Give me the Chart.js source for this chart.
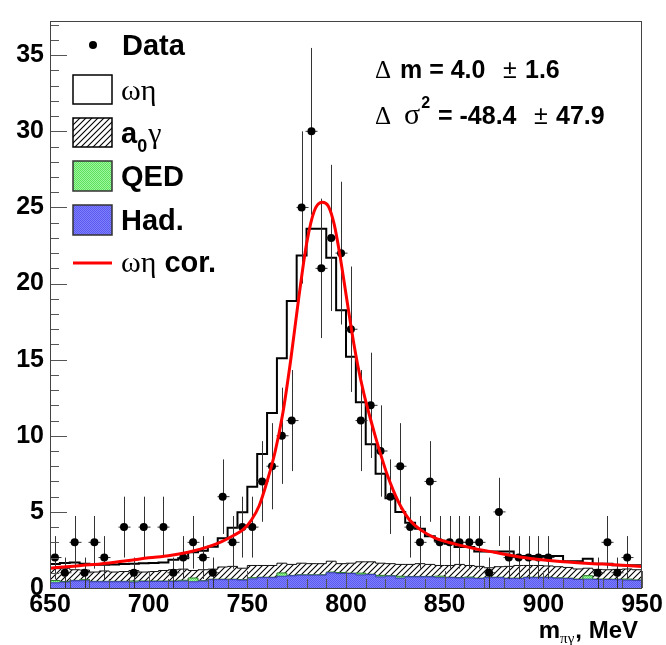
<!DOCTYPE html>
<html><head><meta charset="utf-8">
<script src="https://cdn.jsdelivr.net/npm/chart.js@4.4.0/dist/chart.umd.min.js"></script>
<style>html,body{margin:0;padding:0;background:#fff;}canvas{display:block;}</style>
</head><body>
<canvas id="c" width="666" height="645"></canvas>
<script>
// ---------- data ----------
const binEdges = [650,655,660,665,670,675,680,685,690,695,700,705,710,715,720,725,730,735,740,745,750,755,760,765,770,775,780,785,790,795,800,805,810,815,820,825,830,835,840,845,850,855,860,865,870,875,880,885,890,895,900,905,910,915,920,925,930,935,940,945,950];
const dataCounts = [2,1,3,1,3,2,0,4,1,4, 0,4,1,2,3,2,1,6,3,4, 4,7,8,10,11,25,30,21,23,22, 17,11,12,9,6,8,4,3,7,3, 3,3,3,3,1,5,2,2,2,2, 2,0,0,0,0,1,3,1,2,0];
const dataErrors = [1.41,1,1.73,1,1.73,1.41,0,2,1,2, 0,2,1,1.41,1.73,1.41,1,2.45,1.73,2, 2,2.65,2.83,3.16,3.32,5,5.48,4.58,4.8,4.69, 4.12,3.32,3.46,3,2.45,2.83,2,1.73,2.65,1.73, 1.73,1.73,1.73,1.73,1,2.24,1.41,1.41,1.41,1.41, 1.41,0,0,0,0,1,1.73,1,1.41,0];
const hadValues = [0.34,0.38,0.47,0.48,0.41,0.41,0.41,0.41,0.38,0.43, 0.43,0.43,0.43,0.45,0.41,0.45,0.55,0.55,0.55,0.52, 0.60,0.68,0.68,0.77,0.80,0.84,0.84,0.84,1.00,0.95, 0.95,0.86,0.88,0.73,0.78,0.65,0.73,0.73,0.73,0.68, 0.68,0.66,0.66,0.62,0.68,0.68,0.62,0.62,0.68,0.68, 0.68,0.64,0.62,0.56,0.58,0.56,0.56,0.55,0.52,0.50];
const qedValues = [0.15,0.05,0.03,0.07,0.03,0.03,0.03,0.03,0.08,0.03, 0.03,0.03,0.03,0.06,0.25,0.03,0.03,0.03,0.03,0.03, 0.08,0.03,0.03,0.22,0.03,0.03,0.03,0.03,0.05,0.07, 0.03,0.12,0.03,0.10,0.03,0.12,0.03,0.03,0.03,0.10, 0.03,0.03,0.06,0.03,0.03,0.03,0.03,0.03,0.03,0.03, 0.03,0.03,0.03,0.03,0.23,0.03,0.03,0.03,0.07,0.03];
const a0gValues = [0.78,0.87,0.70,0.63,0.61,0.68,0.61,0.64,0.69,0.59, 0.62,0.69,0.74,0.73,0.49,0.72,0.66,0.80,0.84,0.75, 0.80,0.77,0.77,0.64,0.72,0.76,0.73,0.73,0.71,0.58, 0.65,0.74,0.81,0.80,0.79,0.78,0.79,0.84,0.79,0.70, 0.77,0.86,0.76,0.77,0.62,0.69,0.77,0.83,0.77,0.77, 0.74,0.73,0.70,0.66,0.49,0.63,0.61,0.64,0.66,0.67];
const omegaEtaValues = [0.31,0.35,0.48,0.42,0.47,0.40,0.50,0.50,0.45,0.57, 0.57,0.53,0.65,0.71,1.20,1.25,1.47,1.89,2.54,3.67, 5.17,7.32,10.02,13.47,17.30,20.22,22.00,22.00,19.94,16.65, 13.57,10.48,7.72,5.87,4.30,3.45,2.73,2.30,1.85,1.62, 1.42,1.15,1.22,0.98,1.07,1.00,0.98,0.62,0.62,0.62, 0.65,0.70,0.40,0.50,0.62,0.38,0.40,0.28,0.25,0.30];
const curveX = [650,660,670,680,690,700,710,720,730,737,743,748,752,756,760,764,768,772,776,780,784,788,791,794,797,800,803,806,809,812,815,818,821,824,828,832,838,845,855,865,875,890,910,930,950];
const curveY = [1.30,1.42,1.52,1.65,1.80,1.98,2.12,2.35,2.70,3.05,3.45,3.85,4.45,5.4,7.0,8.9,11.5,15.0,19.0,22.6,24.8,25.35,25.1,23.9,21.8,19.3,16.8,14.6,12.8,11.3,9.9,8.6,7.4,6.4,5.3,4.5,3.8,3.3,2.9,2.6,2.35,2.0,1.72,1.57,1.42];
const xTickLabels = [650,700,750,800,850,900,950];
const yTickLabels = [0,5,10,15,20,25,30,35];
const Y_MAX = 37.25;

// ---------- helpers ----------
const SANS = "'Liberation Sans', Arial, sans-serif";
const SERIF = "'Liberation Serif', 'Times New Roman', serif";
function makePattern(w, h, draw) {
  const c = document.createElement('canvas'); c.width = w; c.height = h;
  const g = c.getContext('2d'); draw(g, w, h);
  return document.getElementById('c').getContext('2d').createPattern(c, 'repeat');
}
const bluePat = makePattern(2, 2, (g) => { g.fillStyle = '#8080ff'; g.fillRect(0,0,2,2); g.fillStyle = '#5a5aee'; g.fillRect(0,0,1,1); g.fillRect(1,1,1,1); });
const greenPat = makePattern(2, 2, (g) => { g.fillStyle = '#9cf79c'; g.fillRect(0,0,2,2); g.fillStyle = '#5fe05f'; g.fillRect(0,0,1,1); g.fillRect(1,1,1,1); });
const hatchPat = makePattern(6, 6, (g, w, h) => {
  g.fillStyle = '#fff'; g.fillRect(0,0,w,h);
  g.strokeStyle = '#000'; g.lineWidth = 1.1;
  g.beginPath(); g.moveTo(-1, h + 1); g.lineTo(w + 1, -1);
  g.moveTo(-1, 1); g.lineTo(1, -1); g.moveTo(w - 1, h + 1); g.lineTo(w + 1, h - 1); g.stroke();
});

function histPoints(vals) {
  return binEdges.map((e, i) => ({ x: e, y: vals[Math.min(i, vals.length - 1)] }));
}
const dataPoints = [];
dataCounts.forEach((n, i) => {
  if (n > 0) dataPoints.push({ x: (binEdges[i] + binEdges[i + 1]) / 2, y: n, err: dataErrors[i] });
});
const curvePoints = curveX.map((x, i) => ({ x, y: curveY[i] }));

const histCommon = { type: 'line', stepped: 'before', pointRadius: 0, stack: 'hist', tension: 0 };

// ---------- plugins ----------
const errorBars = {
  id: 'errorBars',
  beforeDatasetDraw(chart, args) {
    if (chart.data.datasets[args.index].label !== 'Data') return;
    const { ctx, chartArea: a, scales: { x, y } } = chart;
    ctx.save();
    ctx.beginPath(); ctx.rect(a.left, a.top, a.right - a.left, a.bottom - a.top); ctx.clip();
    ctx.strokeStyle = '#333'; ctx.lineWidth = 1;
    dataPoints.forEach(p => {
      const px = Math.round(x.getPixelForValue(p.x)) + 0.5;
      const y1 = y.getPixelForValue(p.y - p.err), y2 = y.getPixelForValue(p.y + p.err);
      const py = y.getPixelForValue(p.y);
      ctx.beginPath(); ctx.moveTo(px, y1); ctx.lineTo(px, y2);
      ctx.moveTo(px - 6, py); ctx.lineTo(px + 6, py); ctx.stroke();
    });
    ctx.restore();
  }
};

function seg(ctx, text, x, y, font, align) {
  ctx.font = font; ctx.textAlign = align || 'left'; ctx.fillText(text, x, y);
  return ctx.measureText(text).width;
}

const decor = {
  id: 'decor',
  afterDraw(chart) {
    const { ctx, chartArea: a, scales: { x, y } } = chart;
    ctx.save();
    // ticks (inside frame)
    ctx.strokeStyle = '#555'; ctx.lineWidth = 1;
    ctx.beginPath();
    for (let v = 0; v <= Math.floor(Y_MAX); v++) {
      const py = Math.round(y.getPixelForValue(v)) + 0.5;
      const len = (v % 5 === 0) ? 17 : 9;
      ctx.moveTo(a.left, py); ctx.lineTo(a.left + len, py);
    }
    for (let v = 650; v <= 950; v += 10) {
      const px = Math.round(x.getPixelForValue(v)) + 0.5;
      const len = (v % 50 === 0) ? 17 : 9;
      ctx.moveTo(px, a.bottom); ctx.lineTo(px, a.bottom - len);
    }
    ctx.stroke();
    // frame
    ctx.strokeStyle = '#444';
    ctx.strokeRect(a.left + 0.5, a.top + 0.5, a.right - a.left - 1, a.bottom - a.top);

    ctx.fillStyle = '#000'; ctx.textBaseline = 'alphabetic';
    // legend
    ctx.beginPath(); ctx.arc(93, 45, 4, 0, Math.PI * 2); ctx.fill();
    seg(ctx, 'Data', 122, 55, 'bold 29px ' + SANS);
    ctx.lineWidth = 1.5; ctx.strokeStyle = '#000';
    ctx.fillStyle = '#fff'; ctx.fillRect(73, 75, 39, 29); ctx.strokeRect(73, 75, 39, 29);
    ctx.fillStyle = '#000'; seg(ctx, 'ωη', 121, 100, '30px ' + SERIF);
    ctx.fillStyle = hatchPat; ctx.fillRect(73, 118, 39, 29); ctx.strokeRect(73, 118, 39, 29);
    ctx.fillStyle = '#000';
    let w = seg(ctx, 'a', 121, 143, 'bold 29px ' + SANS);
    let w2 = seg(ctx, '0', 121 + w, 152, 'bold 18px ' + SANS);
    seg(ctx, 'γ', 121 + w + w2 + 1, 143, '30px ' + SERIF);
    ctx.fillStyle = greenPat; ctx.fillRect(73, 161, 39, 30); ctx.strokeStyle = '#333'; ctx.strokeRect(73, 161, 39, 30);
    ctx.fillStyle = '#000'; seg(ctx, 'QED', 121, 186, 'bold 29px ' + SANS);
    ctx.fillStyle = bluePat; ctx.fillRect(73, 205, 39, 30); ctx.strokeRect(73, 205, 39, 30);
    ctx.fillStyle = '#000'; seg(ctx, 'Had.', 121, 230, 'bold 29px ' + SANS);
    ctx.strokeStyle = '#ff0000'; ctx.lineWidth = 3;
    ctx.beginPath(); ctx.moveTo(73, 263); ctx.lineTo(112, 263); ctx.stroke();
    w = seg(ctx, 'ωη', 121, 272, '30px ' + SERIF);
    seg(ctx, ' cor.', 121 + w, 272, 'bold 29px ' + SANS);

    // fit results
    seg(ctx, 'Δ', 375, 78, '25px ' + SERIF);
    seg(ctx, 'm = 4.0', 400, 78, 'bold 25px ' + SANS);
    seg(ctx, '±', 503, 78, '25px ' + SANS);
    seg(ctx, '1.6', 525, 78, 'bold 25px ' + SANS);
    seg(ctx, 'Δ', 375, 124, '25px ' + SERIF);
    const ws = seg(ctx, 'σ', 404, 124, '30px ' + SERIF);
    seg(ctx, '2', 404 + ws + 1, 108, 'bold 16px ' + SANS);
    seg(ctx, '= -48.4', 438, 124, 'bold 25px ' + SANS);
    seg(ctx, '±', 534, 124, '25px ' + SANS);
    seg(ctx, '47.9', 556, 124, 'bold 25px ' + SANS);

    // x axis title
    let r = 638;
    r -= seg(ctx, ', MeV', r, 638, 'bold 24px ' + SANS, 'right');
    r -= seg(ctx, 'πγ', r - 1, 643, '15px ' + SERIF, 'right') + 1;
    seg(ctx, 'm', r, 638, 'bold 24px ' + SANS, 'right');
    ctx.restore();
  }
};

// ---------- chart ----------
new Chart(document.getElementById('c'), {
  type: 'line',
  data: {
    datasets: [
      { ...histCommon, label: 'Had.', data: histPoints(hadValues), fill: 'origin', backgroundColor: bluePat, borderColor: '#3a3ab0', borderWidth: 1 },
      { ...histCommon, label: 'QED', data: histPoints(qedValues), fill: '-1', backgroundColor: greenPat, borderColor: '#2c7a2c', borderWidth: 1 },
      { ...histCommon, label: 'a0γ', data: histPoints(a0gValues), fill: '-1', backgroundColor: hatchPat, borderColor: '#111', borderWidth: 1 },
      { ...histCommon, label: 'ωη', data: histPoints(omegaEtaValues), fill: '-1', backgroundColor: '#ffffff', borderColor: '#000', borderWidth: 2 },
      { type: 'scatter', label: 'Data', data: dataPoints, stack: 'data', order: -1, showLine: false,
        pointRadius: 4, pointBackgroundColor: '#000', pointBorderWidth: 0, pointBorderColor: '#000' },
      { type: 'line', label: 'ωη cor.', data: curvePoints, stack: 'curve', order: -2, pointRadius: 0,
        borderColor: '#ff0000', borderWidth: 3, fill: false, cubicInterpolationMode: 'monotone' }
    ]
  },
  options: {
    responsive: false, animation: false, devicePixelRatio: 1,
    layout: { padding: { top: 10, right: 24, left: 0, bottom: 0 } },
    plugins: { legend: { display: false }, tooltip: { enabled: false } },
    scales: {
      x: {
        type: 'linear', min: 650, max: 950,
        afterFit(s) { s.height = 57; },
        grid: { display: false, drawTicks: false }, border: { display: false },
        ticks: { stepSize: 50, padding: 2, color: '#000', font: { family: SANS, size: 25, weight: 'bold' },
                 autoSkip: false, maxRotation: 0,
                 callback: (v) => xTickLabels.includes(v) ? String(v) : '' }
      },
      y: {
        type: 'linear', min: 0, max: Y_MAX, stacked: true,
        afterFit(s) { s.width = 50; },
        grid: { display: false, drawTicks: false }, border: { display: false },
        ticks: { stepSize: 5, includeBounds: false, padding: 6, color: '#000', font: { family: SANS, size: 25, weight: 'bold' },
                 callback: (v) => yTickLabels.includes(v) ? String(v) : '' }
      }
    }
  },
  plugins: [errorBars, decor]
});
</script>
</body></html>
